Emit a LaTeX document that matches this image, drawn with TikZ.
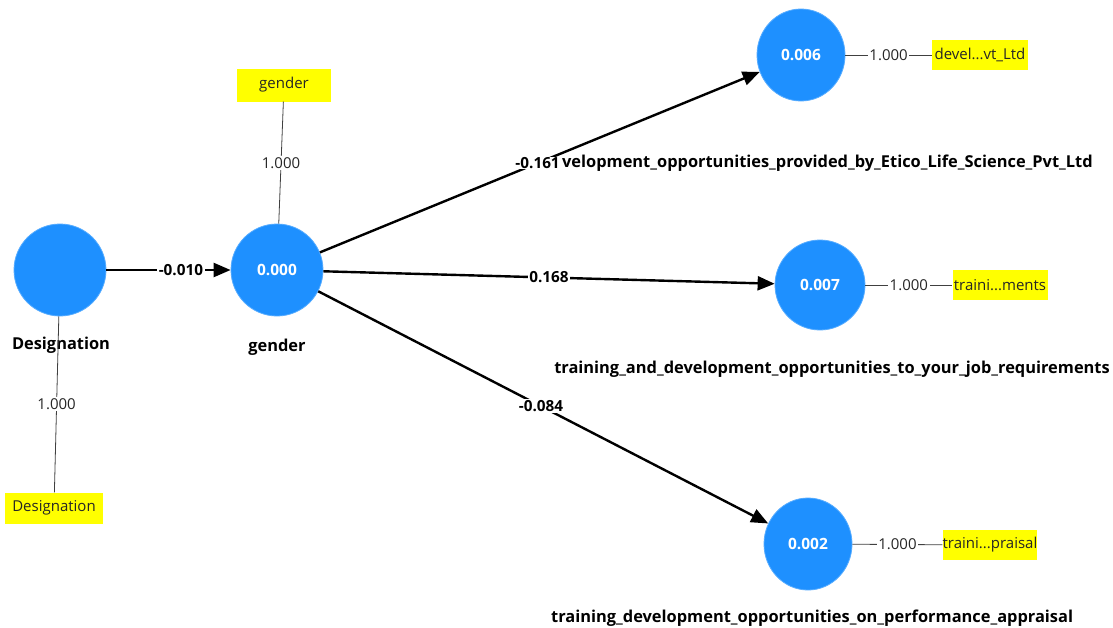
\documentclass[tikz,border=0pt]{standalone}
\usepackage{fontspec}
\setmainfont{Open Sans}
\usetikzlibrary{arrows.meta,shapes.geometric}
\definecolor{lvblue}{RGB}{30,144,255}
\definecolor{indyel}{RGB}{255,255,0}
\begin{document}
\begin{tikzpicture}[x=1pt,y=-1pt,
  lv/.style={ellipse, fill=lvblue, draw=lvblue!75!white, line width=0.8pt, inner sep=0pt, text=white, font=\bfseries\fontsize{15.5}{15.5}\selectfont},
  ind/.style={rectangle, fill=indyel, inner sep=0pt, text=black!85, font=\fontsize{15}{15}\selectfont},
  pathline/.style={line width=2.4pt, -{Triangle[length=17pt,width=14pt]}},
  plab/.style={fill=white, inner sep=1.5pt, text=black, font=\bfseries\fontsize{15.3}{15.3}\selectfont},
  loadline/.style={line width=0.8pt, black!75},
  llab/.style={fill=white, inner sep=1.5pt, text=black!85, font=\fontsize{15}{15}\selectfont},
  lvname/.style={text=black, inner sep=0pt, font=\bfseries\fontsize{16.4}{16.4}\selectfont}
]
\useasboundingbox[fill=white] (0,0) rectangle (1113,627);

% latent variables
\node[lv, minimum width=92pt, minimum height=92pt] (des) at (60,270) {};
\node[lv, minimum width=92pt, minimum height=92pt] (gen) at (277,270) {0.000};
\node[lv, minimum width=88pt, minimum height=92pt] (y1) at (801,55) {0.006};
\node[lv, minimum width=90pt, minimum height=90pt] (y2) at (820,285) {0.007};
\node[lv, minimum width=88pt, minimum height=92pt] (y3) at (808,544) {0.002};

% indicators
\node[ind, minimum width=94pt, minimum height=33pt] (gbox) at (284,85) {gender};
\node[ind, minimum width=98pt, minimum height=31pt] (dbox) at (54,508) {Designation};
\node[ind, minimum width=96pt, minimum height=30pt] (b1) at (980,55) {devel...vt\_Ltd};
\node[ind, minimum width=95pt, minimum height=30pt] (b2) at (1000,285) {traini...ments};
\node[ind, minimum width=94pt, minimum height=30pt] (b3) at (990,545) {traini...praisal};

% names
\node[lvname] (ndes) at (61,345) {Designation};
\node[lvname] (ngen) at (277,347) {gender};
\node[lvname, anchor=east] (ny2) at (1110,369) {training\_and\_development\_opportunities\_to\_your\_job\_requirements};
\node[lvname, anchor=west] (ny3) at (551,618) {training\_development\_opportunities\_on\_performance\_appraisal};

% loadings
\draw[loadline] (gen) -- (gbox) node[llab, pos=0.5] {1.000};
\draw[loadline] (des) -- (dbox) node[llab, pos=0.5] {1.000};
\draw[loadline] (y1) -- (b1) node[llab, pos=0.5] {1.000};
\draw[loadline] (y2) -- (b2) node[llab, pos=0.5] {1.000};
\draw[loadline] (y3) -- (b3) node[llab, pos=0.5] {1.000};

% paths
\draw[pathline] (des) -- (gen) node[plab, pos=0.6] {-0.010};
\draw[pathline] (gen) -- (y1) node[plab, pos=0.495, inner sep=0pt] (p1) {-0.161};
\draw[pathline] (gen) -- (y2) node[plab, pos=0.5] {0.168};
\draw[pathline] (gen) -- (y3) node[plab, pos=0.495] {-0.084};
\node[lvname, anchor=west] (ny1) at ([xshift=1pt]p1.east) {velopment\_opportunities\_provided\_by\_Etico\_Life\_Science\_Pvt\_Ltd};
\end{tikzpicture}
\end{document}
